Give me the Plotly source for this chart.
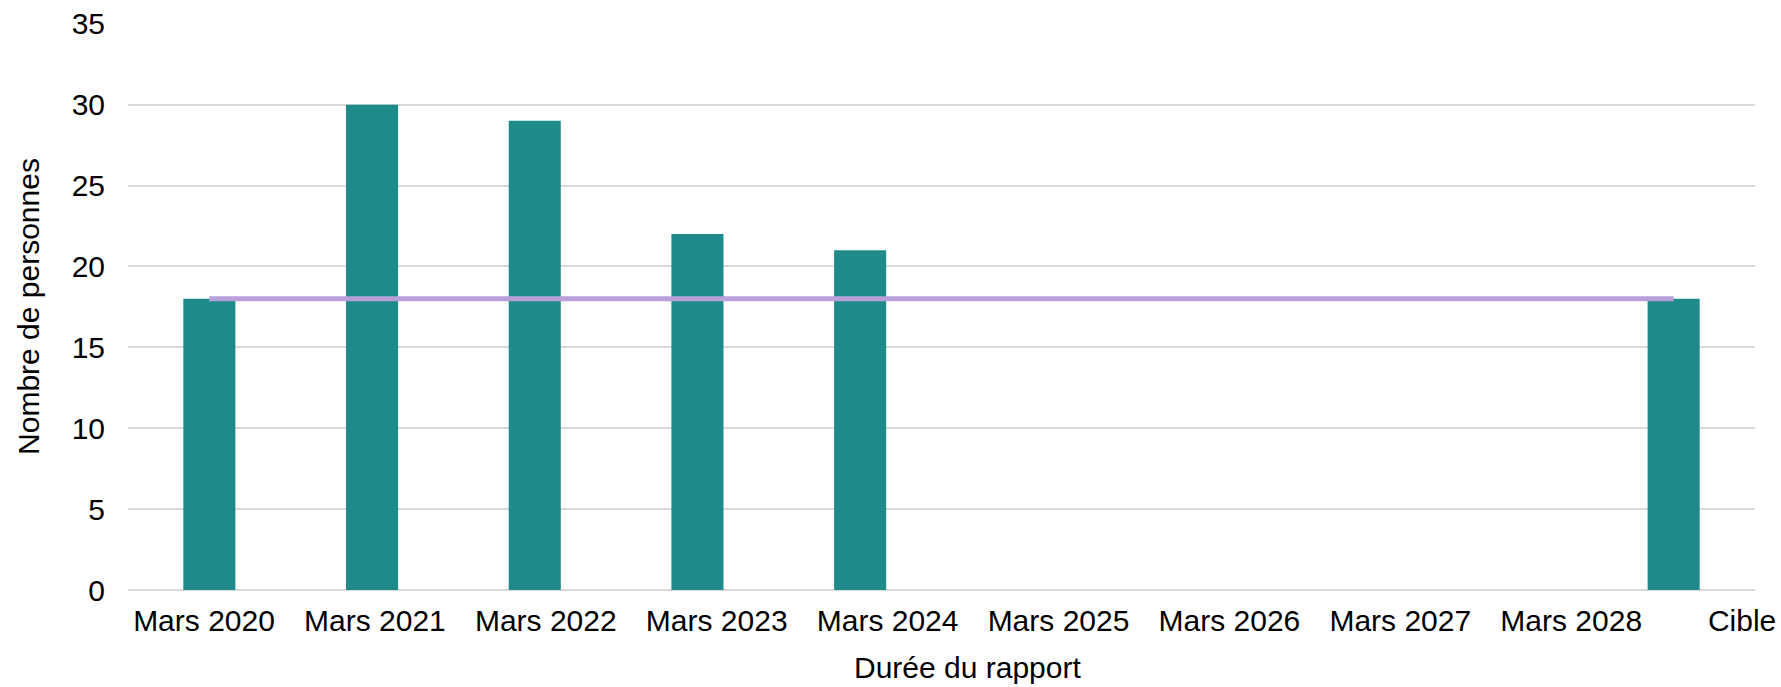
import plotly.graph_objects as go

categories = ["Mars 2020", "Mars 2021", "Mars 2022", "Mars 2023", "Mars 2024",
              "Mars 2025", "Mars 2026", "Mars 2027", "Mars 2028", "Cible"]
bar_values = [18, 30, 29, 22, 21, None, None, None, None, 18]
target_values = [18, 18, 18, 18, 18, 18, 18, 18, 18, 18]
y_ticks = [0, 5, 10, 15, 20, 25, 30, 35]

FONT = "Liberation Sans, Arial, sans-serif"
BAR_COLOR = "#1E8A89"
LINE_COLOR = "#B9A0D8"
GRID = "#D9D9D9"

fig = go.Figure()
fig.add_trace(go.Bar(x=categories, y=bar_values, marker=dict(color=BAR_COLOR, line=dict(width=0)),
                     showlegend=False))
fig.add_trace(go.Scatter(x=categories, y=target_values, mode="lines",
                         line=dict(color=LINE_COLOR, width=5), showlegend=False))
# label axis (ghost trace carries the category labels)
fig.add_trace(go.Scatter(x=categories, y=target_values, mode="markers", xaxis="x2",
                         marker=dict(opacity=0), hoverinfo="skip", showlegend=False))

fig.update_layout(
    width=1781, height=687,
    margin=dict(l=128, r=26, t=23, b=97, autoexpand=False),
    paper_bgcolor="white", plot_bgcolor="white",
    font=dict(family=FONT, size=30, color="#000000"),
    bargap=0.68,
    xaxis=dict(type="category", categoryorder="array", categoryarray=categories,
               showticklabels=False, showgrid=False, zeroline=False, showline=False,
               ticks="", range=[-0.5, 9.5], automargin=False),
    xaxis2=dict(type="category", categoryorder="array", categoryarray=categories,
                overlaying="x", side="bottom", range=[-0.4447, 9.0755],
                showgrid=False, zeroline=False, showline=False, ticks="",
                tickfont=dict(family=FONT, size=30, color="#000000"),
                ticklabelstandoff=10, automargin=False),
    yaxis=dict(range=[0, 35.05], tickvals=y_ticks, showgrid=True, gridcolor=GRID, gridwidth=2,
               zeroline=True, zerolinecolor=GRID, zerolinewidth=2, showline=False,
               ticks="", ticklabelstandoff=22, automargin=False,
               tickfont=dict(family=FONT, size=30, color="#000000"),
               title=dict(text="Nombre de personnes", standoff=23,
                          font=dict(family=FONT, size=30, color="#000000"))),
    annotations=[dict(text="Durée du rapport", xref="paper", yref="paper",
                      x=0.516, y=0, yshift=-59, yanchor="top", xanchor="center",
                      showarrow=False, font=dict(family=FONT, size=30, color="#000000"))],
)

fig.write_html("out.html", config={"displayModeBar": False},
               post_script="document.body.style.margin='0';document.body.style.overflow='hidden';")
